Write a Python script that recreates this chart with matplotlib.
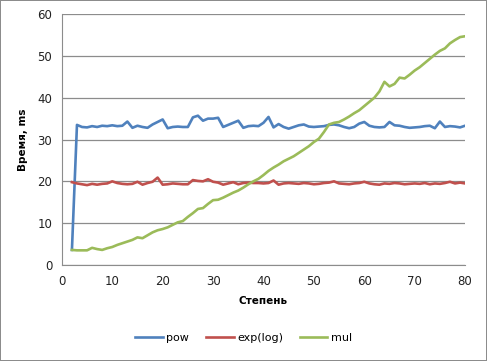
import matplotlib
matplotlib.use("Agg")
import matplotlib.pyplot as plt

# степень (x axis)
degree = list(range(2, 81))

pow_ms = [3.6, 33.5, 33.0, 32.9, 33.2, 33.0, 33.3, 33.2, 33.4, 33.2,
          33.3, 34.3, 32.8, 33.3, 33.0, 32.8, 33.6, 34.2, 34.8, 32.7,
          33.0, 33.1, 33.0, 33.0, 35.3, 35.7, 34.5, 35.0, 35.0, 35.2,
          33.0, 33.5, 34.0, 34.5, 32.8, 33.2, 33.3, 33.2, 34.0, 35.4,
          32.9, 33.7, 33.0, 32.6, 33.0, 33.4, 33.6, 33.1, 33.0, 33.1,
          33.2, 33.5, 33.6, 33.4, 33.0, 32.7, 33.0, 33.8, 34.2, 33.3,
          33.0, 32.9, 33.0, 34.2, 33.4, 33.3, 33.0, 32.8, 32.9, 33.0,
          33.2, 33.3, 32.7, 34.3, 33.0, 33.2, 33.1, 32.9, 33.3]

explog_ms = [19.8, 19.5, 19.3, 19.1, 19.4, 19.2, 19.4, 19.5, 20.0, 19.6,
             19.4, 19.3, 19.4, 19.9, 19.2, 19.6, 19.9, 20.9, 19.2, 19.3,
             19.5, 19.4, 19.3, 19.3, 20.3, 20.1, 20.0, 20.5, 19.9, 19.7,
             19.2, 19.5, 19.8, 19.3, 19.6, 19.7, 19.6, 19.6, 19.5, 19.6,
             20.2, 19.2, 19.5, 19.6, 19.5, 19.4, 19.6, 19.5, 19.3, 19.4,
             19.6, 19.7, 20.0, 19.5, 19.4, 19.3, 19.5, 19.6, 19.9, 19.5,
             19.3, 19.2, 19.5, 19.4, 19.6, 19.5, 19.3, 19.4, 19.5, 19.4,
             19.6, 19.3, 19.5, 19.4, 19.6, 19.9, 19.5, 19.7, 19.5]

mul_ms = [3.6, 3.5, 3.5, 3.5, 4.1, 3.8, 3.6, 4.0, 4.3, 4.8,
          5.2, 5.6, 6.0, 6.6, 6.4, 7.1, 7.8, 8.3, 8.6, 9.0,
          9.6, 10.2, 10.5, 11.5, 12.4, 13.4, 13.6, 14.6, 15.5, 15.6,
          16.1, 16.7, 17.3, 17.8, 18.5, 19.3, 20.0, 20.6, 21.5, 22.5,
          23.3, 24.0, 24.8, 25.4, 26.0, 26.8, 27.6, 28.4, 29.4, 30.2,
          31.8, 33.6, 34.0, 34.2, 34.8, 35.5, 36.3, 37.0, 38.0, 39.0,
          40.0, 41.5, 43.8, 42.7, 43.3, 44.8, 44.6, 45.5, 46.5, 47.3,
          48.3, 49.3, 50.3, 51.2, 51.8, 53.0, 53.8, 54.5, 54.7]

fig = plt.figure(figsize=(4.87, 3.61), dpi=100, linewidth=1.2, edgecolor="#8c8c8c")
ax = fig.add_axes([0.127, 0.266, 0.828, 0.695])

ax.plot(degree, pow_ms, color="#4F81BD", lw=1.9, label="pow")
ax.plot(degree, explog_ms, color="#C0504D", lw=1.9, label="exp(log)")
ax.plot(degree, mul_ms, color="#9BBB59", lw=1.9, label="mul")

ax.set_xlim(0, 80)
ax.set_ylim(0, 60)
ax.set_xticks(range(0, 81, 10))
ax.set_yticks(range(0, 61, 10))
ax.grid(axis="y", color="#8c8c8c", lw=0.9)
ax.set_axisbelow(True)
for s in ["top", "right"]:
    ax.spines[s].set_visible(False)
for s in ["left", "bottom"]:
    ax.spines[s].set_color("#8c8c8c")
ax.tick_params(length=0, labelsize=8.5, labelcolor="#222222")
ax.tick_params(axis="x", pad=7)
ax.tick_params(axis="y", pad=7)

ax.set_xlabel("Степень", fontsize=7.5, fontweight="bold", labelpad=6)
ax.set_ylabel("Время, ms", fontsize=7.5, fontweight="bold", labelpad=7)

fig.legend(loc="center", bbox_to_anchor=(0.5, 0.065), ncol=3, frameon=False,
           fontsize=8, handlelength=2.5, columnspacing=1.5, handletextpad=0.3)

fig.savefig("out.png", dpi=100)
